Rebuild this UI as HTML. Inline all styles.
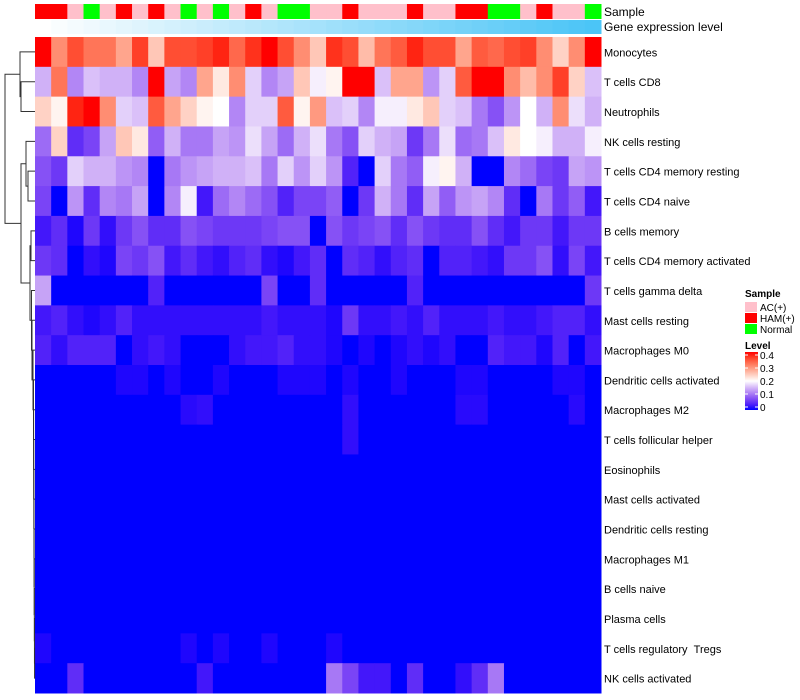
<!DOCTYPE html>
<html><head><meta charset="utf-8"><style>
body{margin:0;background:#fff;}
svg{display:block;font-family:"Liberation Sans",sans-serif;}
</style></head><body>
<svg id="chart" width="800" height="700"></svg>
<script>
const rowNames=["Monocytes","T cells CD8","Neutrophils","NK cells resting","T cells CD4 memory resting","T cells CD4 naive","B cells memory","T cells CD4 memory activated","T cells gamma delta","Mast cells resting","Macrophages M0","Dendritic cells activated","Macrophages M2","T cells follicular helper","Eosinophils","Mast cells activated","Dendritic cells resting","Macrophages M1","B cells naive","Plasma cells","T cells regulatory \u00a0Tregs","NK cells activated"];
const sampleGroups=["HAM","HAM","AC","N","AC","HAM","AC","HAM","AC","N","AC","N","AC","HAM","AC","N","N","AC","AC","HAM","AC","AC","AC","HAM","AC","AC","HAM","HAM","N","N","AC","HAM","AC","AC","N"];
const r1=[0.4,0.3,0.35,0.32,0.32,0.28,0.36,0.25,0.35,0.35,0.36,0.38,0.33,0.37,0.4,0.35,0.3,0.25,0.37,0.35,0.26,0.32,0.34,0.38,0.35,0.35,0.28,0.34,0.33,0.35,0.36,0.3,0.24,0.3,0.4];
const r2=[0.15,0.32,0.12,0.16,0.15,0.15,0.12,0.4,0.14,0.12,0.28,0.22,0.3,0.17,0.12,0.14,0.25,0.19,0.21,0.4,0.4,0.16,0.28,0.28,0.13,0.17,0.34,0.4,0.4,0.3,0.26,0.3,0.36,0.24,0.16];
const r3=[0.24,0.21,0.38,0.4,0.3,0.17,0.16,0.34,0.28,0.24,0.21,0.2,0.12,0.17,0.17,0.34,0.21,0.29,0.16,0.17,0.12,0.19,0.19,0.22,0.25,0.17,0.16,0.11,0.08,0.13,0.2,0.15,0.3,0.18,0.15];
const r4=[0.1,0.24,0.05,0.07,0.14,0.25,0.22,0.09,0.15,0.11,0.11,0.14,0.13,0.18,0.14,0.1,0.15,0.18,0.11,0.08,0.17,0.15,0.14,0.06,0.11,0.18,0.1,0.11,0.16,0.22,0.2,0.19,0.15,0.15,0.19];
const r5=[0.08,0.06,0.17,0.15,0.15,0.13,0.12,0,0.11,0.13,0.14,0.15,0.15,0.16,0.11,0.17,0.13,0.17,0.13,0.04,0,0.17,0.11,0.09,0.19,0.21,0.15,0,0,0.12,0.1,0.07,0.06,0.14,0.13];
const r6=[0.07,0,0.13,0.05,0.12,0.11,0.14,0,0.12,0.19,0.03,0.1,0.12,0.1,0.08,0.04,0.07,0.07,0.09,0,0.06,0.15,0.11,0.05,0.14,0.09,0.13,0.14,0.12,0.05,0,0.11,0.06,0.09,0.03];
const r7=[0.03,0.05,0.01,0.06,0.02,0.06,0.08,0.05,0.05,0.08,0.07,0.06,0.06,0.06,0.07,0.08,0.08,0,0.08,0.06,0.07,0.08,0.05,0.08,0.06,0.05,0.05,0.08,0.05,0.03,0.06,0.06,0.03,0.06,0.06];
const r8=[0.06,0.05,0,0.02,0.01,0.07,0.06,0.08,0.03,0.05,0.03,0.02,0.04,0.05,0.02,0.01,0.03,0.05,0,0.05,0.04,0.02,0.04,0.05,0,0.04,0.04,0.03,0.02,0.06,0.06,0.08,0.02,0.07,0.03];
const r9=[0.14,0,0,0,0,0,0,0.04,0,0,0,0,0,0,0.07,0,0,0.05,0,0,0,0,0,0.04,0,0,0,0,0,0,0,0,0,0,0.06];
const r10=[0.03,0.04,0.02,0.01,0.02,0.04,0.02,0.02,0.02,0.02,0.02,0.02,0.02,0.02,0.03,0.02,0.02,0.02,0.01,0.06,0.02,0.02,0.03,0.02,0.04,0.02,0.02,0.02,0.03,0.02,0.02,0.03,0.04,0.04,0.02];
const r11=[0.04,0.02,0.04,0.04,0.04,0,0.02,0.03,0.02,0,0,0,0.02,0.03,0.03,0.04,0.02,0.02,0.01,0,0.01,0,0.01,0.02,0.01,0.02,0,0,0.04,0.03,0.03,0.01,0.04,0,0.03];
const r12=[0,0,0,0,0,0.01,0.01,0,0.01,0,0,0.01,0,0,0,0.01,0.01,0.01,0,0.01,0,0,0.01,0,0,0,0.01,0.01,0,0,0,0,0.01,0.01,0];
const r13=[0,0,0,0,0,0,0,0,0,0.015,0.02,0,0,0,0,0,0,0,0,0.02,0,0,0,0,0,0,0.015,0.015,0,0,0,0,0,0.015,0];
const r14=[0,0,0,0,0,0,0,0,0,0,0,0,0,0,0,0,0,0,0,0.02,0,0,0,0,0,0,0,0,0,0,0,0,0,0,0];
const r15=[0,0,0,0,0,0,0,0,0,0,0,0,0,0,0,0,0,0,0,0,0,0,0,0,0,0,0,0,0,0,0,0,0,0,0];
const r16=r15.slice(), r17=r15.slice(), r18=r15.slice(), r19=r15.slice(), r20=r15.slice();
const r21=[0.01,0,0,0,0,0,0,0,0,0.01,0,0.01,0,0,0.01,0,0,0,0.01,0,0,0,0,0,0,0,0,0,0,0,0,0,0,0,0];
const r22=[0,0,0.05,0,0,0,0,0,0,0,0.03,0,0,0,0,0,0,0,0.11,0.07,0.03,0.03,0,0.05,0,0,0.02,0.05,0.11,0,0,0,0,0,0];
const values=[r1,r2,r3,r4,r5,r6,r7,r8,r9,r10,r11,r12,r13,r14,r15,r16,r17,r18,r19,r20,r21,r22];
const legendTicks=[0,0.1,0.2,0.3,0.4];

const NS="http://www.w3.org/2000/svg";
const svg=document.getElementById("chart");
function mk(t,a,p){const e=document.createElementNS(NS,t);for(const k in a)e.setAttribute(k,a[k]);(p||svg).appendChild(e);return e;}
const X0=35,X1=601,Y0=37,Y1=693;
const nC=sampleGroups.length,nR=rowNames.length;
const cw=(X1-X0)/nC,rh=(Y1-Y0)/nR;
const xPos=i=>X0+i*cw, yPos=j=>Y0+j*rh;
function col(v){
  const t=Math.max(0,Math.min(1,v/0.4));
  let r,g,b;
  if(t<0.5){const u=t/0.5;r=255*Math.pow(u,0.7);g=255*Math.pow(u,1.25);b=255-10*Math.sin(Math.PI*u);}
  else{const u=(t-0.5)/0.5;r=255;g=255*Math.pow(1-u,0.85);b=255*Math.pow(1-u,1.15);}
  return `rgb(${r|0},${g|0},${b|0})`;
}
const grpCol={AC:"#ffc0cb",HAM:"#ff0000",N:"#00ff00"};
sampleGroups.forEach((g,i)=>{
  const e=mk("rect",{x:xPos(i),y:4,width:cw+0.5,height:15,fill:grpCol[g]});
  
  
  const t=i/(nC-1);
  const e2=mk("rect",{x:xPos(i),y:20,width:cw+0.5,height:14,fill:`rgb(${(255-180*t)|0},${(255-58*t)|0},${(255-8*t)|0})`});
  
  
});
let t1=mk("text",{x:604,y:16,"font-size":12});t1.textContent="Sample";

let t2=mk("text",{x:604,y:31,"font-size":12});t2.textContent="Gene expression level";

values.forEach((row,j)=>{
  row.forEach((v,i)=>{
    const e=mk("rect",{x:xPos(i),y:yPos(j),width:cw+0.5,height:rh+0.5,fill:col(v)});
    
    
  });
  const t=mk("text",{x:604,y:yPos(j)+rh/2+4.5,"font-size":11});
  t.textContent=rowNames[j];
  
  
});
const cy=j=>yPos(j)+rh/2;
const g=mk("g",{stroke:"#333","stroke-width":1,fill:"none"});

function link(xm,ya,xa,yb,xb){mk("path",{d:`M${xa},${ya}H${xm}V${yb}H${xb}`},g);}
let n={};
link(21,cy(1),35,cy(2),35); n.A=(cy(1)+cy(2))/2;
link(20,cy(0),35,n.A,21); n.B=(cy(0)+n.A)/2;
link(28,cy(4),35,cy(5),35); n.D=(cy(4)+cy(5))/2;
link(26,cy(3),35,n.D,28); n.C=(cy(3)+n.D)/2;
link(31,cy(6),35,cy(7),35); n.H=(cy(6)+cy(7))/2;
let prevY=cy(21),prevX=35;
for(let j=20;j>=11;j--){const xm=33.5+(j-11)*0.12;link(xm,cy(j),35,prevY,prevX);prevY=(cy(j)+prevY)/2;prevX=xm;}
link(33,cy(10),35,prevY,prevX); prevY=(cy(10)+prevY)/2; prevX=33;
link(32,cy(9),35,prevY,prevX); prevY=(cy(9)+prevY)/2; prevX=32;
link(31.5,cy(8),35,prevY,prevX); prevY=(cy(8)+prevY)/2; prevX=31.5;
link(30,n.H,31,prevY,prevX); n.G=(n.H+prevY)/2;
link(21,n.C,26,n.G,30); n.E=(n.C+n.G)/2;
link(5,n.B,20,n.E,21);
let lt=mk("text",{x:745,y:297,"font-size":10,"font-weight":"bold"});lt.textContent="Sample";

[["AC(+)","AC"],["HAM(+)","HAM"],["Normal","N"]].forEach((d,k)=>{
  const r=mk("rect",{x:745,y:302+k*11,width:12,height:10,fill:grpCol[d[1]]});
  
  const t=mk("text",{x:760,y:311+k*11,"font-size":10});t.textContent=d[0];
  
});
let lv=mk("text",{x:745,y:349,"font-size":10,"font-weight":"bold"});lv.textContent="Level";

const defs=mk("defs",{});const lg=mk("linearGradient",{id:"lg",x1:0,y1:1,x2:0,y2:0},defs);
for(let k=0;k<=10;k++){mk("stop",{offset:k/10,"stop-color":col(0.04*k)},lg);}
const by0=352,by1=410;
const cb=mk("rect",{x:745,y:by0,width:13,height:by1-by0,fill:"url(#lg)"});

legendTicks.forEach(v=>{
  const y=by1-3-(v/0.4)*(by1-by0-6);
  mk("line",{x1:745,x2:748,y1:y,y2:y,stroke:"#fff"});
  mk("line",{x1:755,x2:758,y1:y,y2:y,stroke:"#fff"});
  const t=mk("text",{x:760,y:y+4,"font-size":10});t.textContent=v===0?"0":v.toString();
  
});
</script>
</body></html>
